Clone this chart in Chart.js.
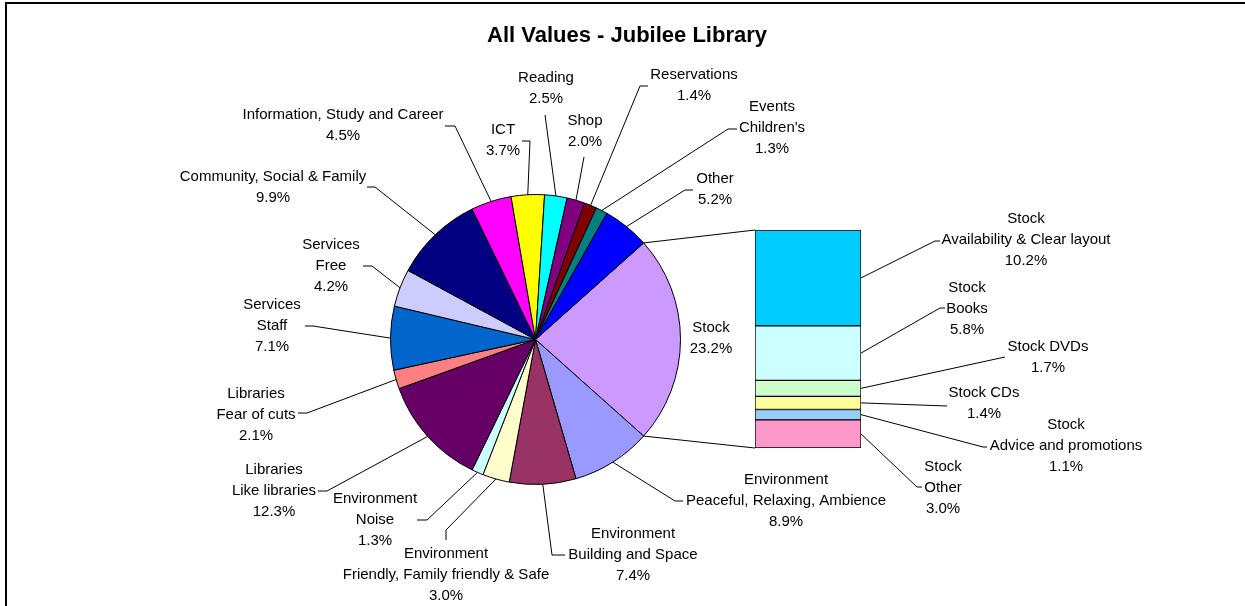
<!DOCTYPE html>
<html>
<head>
<meta charset="utf-8">
<title>All Values - Jubilee Library</title>
<script src="https://cdn.jsdelivr.net/npm/chart.js@4.4.0/dist/chart.umd.min.js"></script>
<style>
  body { margin: 0; background: #fff; }
  #wrap { position: relative; width: 1245px; height: 606px; overflow: hidden; }
  #frame { position: absolute; left: 5px; top: 2px; width: 1300px; height: 700px;
           border-left: 2px solid #000; border-top: 2px solid #000; }
  canvas { position: absolute; left: 0; top: 0; }
</style>
</head>
<body>
<div id="wrap">
  <div id="frame"></div>
  <canvas id="pie" width="1245" height="606"></canvas>
  <canvas id="bar" width="1245" height="606"></canvas>
</div>
<script>
// pie slices, clockwise starting with Stock
var pieCategories = [
  ['Stock'],
  ['Environment', 'Peaceful, Relaxing, Ambience'],
  ['Environment', 'Building and Space'],
  ['Environment', 'Friendly, Family friendly & Safe'],
  ['Environment', 'Noise'],
  ['Libraries', 'Like libraries'],
  ['Libraries', 'Fear of cuts'],
  ['Services', 'Staff'],
  ['Services', 'Free'],
  ['Community, Social & Family'],
  ['Information, Study and Career'],
  ['ICT'],
  ['Reading'],
  ['Shop'],
  ['Reservations'],
  ['Events', "Children's"],
  ['Other']
];
var pieValues = [23.2, 8.9, 7.4, 3.0, 1.3, 12.3, 2.1, 7.1, 4.2, 9.9, 4.5, 3.7, 2.5, 2.0, 1.4, 1.3, 5.2];
var pieColors = ['#CC99FF', '#9999FF', '#993366', '#FFFFCC', '#CCFFFF', '#660066', '#FF8080', '#0066CC',
                 '#CCCCFF', '#000080', '#FF00FF', '#FFFF00', '#00FFFF', '#800080', '#800000', '#008080', '#0000FF'];

// breakdown of Stock, top to bottom of the bar
var stockCategories = [
  ['Stock', 'Availability & Clear layout'],
  ['Stock', 'Books'],
  ['Stock DVDs'],
  ['Stock CDs'],
  ['Stock', 'Advice and promotions'],
  ['Stock', 'Other']
];
var stockValues = [10.2, 5.8, 1.7, 1.4, 1.1, 3.0];
var stockColors = ['#00CCFF', '#CCFFFF', '#CCFFCC', '#FFFF99', '#99CCFF', '#FF99CC'];

// label placement (centre of first text line) and leader elbows
var pieLabelPos = [[711, 328], [786, 480], [633, 534], [446, 554], [375, 499], [274, 470], [256, 394],
                   [272, 305], [331, 245], [273, 177], [343, 115], [503, 130], [546, 78], [585, 121],
                   [694, 75], [772, 107], [715, 179]];
var pieLeaders = [null, [675, 501, 683, 501], [552, 555, 565, 555], [446, 530, 446, 540], [427, 520, 417, 520],
                  [327, 491, 318, 491], [307, 413, 298, 413], [313, 326, 305, 326], [372, 266, 363, 266],
                  [375, 187, 367, 187], [455, 126, 445, 126], [530, 141, 522, 141], [545, 115], [584, 157],
                  [640, 86, 648, 86], [728, 129, 737, 129], [685, 190, 693, 190]];
var stockLabelPos = [[1026, 219], [967, 288], [1048, 347], [984, 393], [1066, 425], [943, 467]];
var stockLeaders = [[935, 241, 940, 241], [940, 308, 945, 308], [1005, 357], [947, 406],
                    [983, 447, 987, 447], [917, 487, 922, 487]];

var FONT = '15px "Liberation Sans", Arial, sans-serif';
var LINE = 21;

function drawLabel(ctx, lines, pos) {
  lines.forEach(function(t, k) {
    ctx.fillText(t, pos[0], pos[1] + k * LINE);
  });
}
function drawLeader(ctx, sx, sy, ld) {
  ctx.beginPath();
  ctx.moveTo(sx, sy);
  ctx.lineTo(ld[0], ld[1]);
  if (ld.length > 2) ctx.lineTo(ld[2], ld[3]);
  ctx.stroke();
}

var pieLabelsPlugin = {
  id: 'pieLabels',
  afterDraw: function(chart) {
    var ctx = chart.ctx;
    var arcs = chart.getDatasetMeta(0).data;
    ctx.save();
    ctx.fillStyle = '#000';
    ctx.textAlign = 'center';
    ctx.textBaseline = 'middle';
    ctx.font = 'bold 22px "Liberation Sans", Arial, sans-serif';
    ctx.fillText('All Values - Jubilee Library', 627, 36);
    ctx.font = FONT;
    ctx.strokeStyle = '#000';
    ctx.lineWidth = 1;
    arcs.forEach(function(arc, i) {
      if (pieLeaders[i]) {
        var mid = (arc.startAngle + arc.endAngle) / 2;
        drawLeader(ctx, arc.x + Math.cos(mid) * arc.outerRadius, arc.y + Math.sin(mid) * arc.outerRadius, pieLeaders[i]);
      }
      drawLabel(ctx, pieCategories[i].concat([pieValues[i].toFixed(1) + '%']), pieLabelPos[i]);
    });
    ctx.restore();
  }
};

var stockShare = pieValues[0] / pieValues.reduce(function(a, b) { return a + b; }, 0);

var pieChart = new Chart(document.getElementById('pie').getContext('2d'), {
  type: 'pie',
  data: {
    labels: pieCategories.map(function(c) { return c.join(' '); }),
    datasets: [{
      data: pieValues,
      backgroundColor: pieColors,
      borderColor: '#000',
      borderWidth: 1
    }]
  },
  options: {
    responsive: false,
    animation: false,
    events: [],
    rotation: 90 - stockShare * 180,
    layout: { padding: { left: 390, right: 564, top: 194, bottom: 121 } },
    plugins: { legend: { display: false }, tooltip: { enabled: false }, title: { display: false } }
  },
  plugins: [pieLabelsPlugin]
});

var stockLabelsPlugin = {
  id: 'stockLabels',
  afterDraw: function(chart) {
    var ctx = chart.ctx;
    var n = stockValues.length;
    ctx.save();
    ctx.fillStyle = '#000';
    ctx.strokeStyle = '#000';
    ctx.lineWidth = 1;
    ctx.textAlign = 'center';
    ctx.textBaseline = 'middle';
    ctx.font = FONT;
    var top = null, bottom = null, left = null;
    chart.data.datasets.forEach(function(ds, j) {
      var el = chart.getDatasetMeta(j).data[0];
      var i = ds.stockIndex;
      var right = el.x + el.width / 2;
      left = el.x - el.width / 2;
      if (i === 0) top = el.y;
      if (i === n - 1) bottom = el.base;
      drawLeader(ctx, right, (el.y + el.base) / 2, stockLeaders[i]);
      drawLabel(ctx, stockCategories[i].concat([stockValues[i].toFixed(1) + '%']), stockLabelPos[i]);
    });
    // connectors from the Stock slice to the bar
    var arc = pieChart.getDatasetMeta(0).data[0];
    ctx.beginPath();
    ctx.moveTo(arc.x + Math.cos(arc.startAngle) * arc.outerRadius, arc.y + Math.sin(arc.startAngle) * arc.outerRadius);
    ctx.lineTo(left, top);
    ctx.moveTo(arc.x + Math.cos(arc.endAngle) * arc.outerRadius, arc.y + Math.sin(arc.endAngle) * arc.outerRadius);
    ctx.lineTo(left, bottom);
    ctx.stroke();
    ctx.restore();
  }
};

var barDatasets = stockValues.map(function(v, i) {
  return {
    label: stockCategories[i].join(' '),
    stockIndex: i,
    data: [v],
    backgroundColor: stockColors[i],
    borderColor: '#000',
    borderWidth: 1,
    borderSkipped: false,
    barPercentage: 1,
    categoryPercentage: 1
  };
}).reverse();

var barChart = new Chart(document.getElementById('bar').getContext('2d'), {
  type: 'bar',
  data: { labels: ['Stock'], datasets: barDatasets },
  options: {
    responsive: false,
    animation: false,
    events: [],
    layout: { padding: { left: 755, right: 384, top: 230, bottom: 158 } },
    scales: {
      x: { stacked: true, display: false },
      y: { stacked: true, display: false, min: 0, max: pieValues[0] }
    },
    plugins: { legend: { display: false }, tooltip: { enabled: false } }
  },
  plugins: [stockLabelsPlugin]
});
</script>
</body>
</html>
